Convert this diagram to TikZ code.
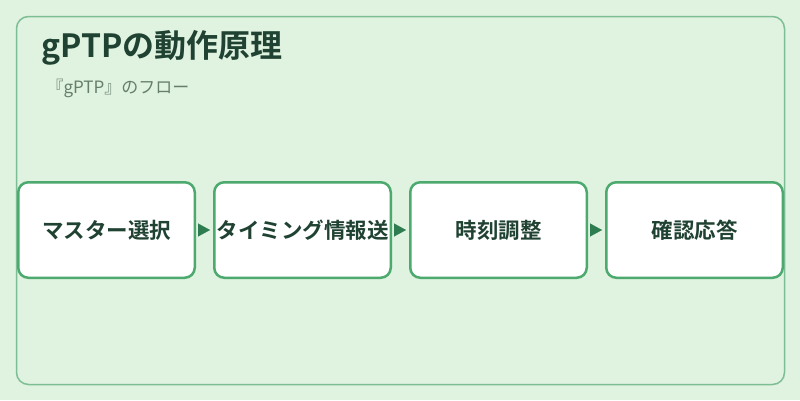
\documentclass[tikz,border=0pt]{standalone}
\usepackage{fontspec}
\setmainfont{Noto Sans CJK JP}[BoldFont={Noto Sans CJK JP Bold}]
\usetikzlibrary{arrows.meta}
\definecolor{pageGreen}{HTML}{E0F2E0}
\definecolor{frameGreen}{HTML}{7DBE94}
\definecolor{boxGreen}{HTML}{4CAA6E}
\definecolor{tipGreen}{HTML}{2E7D50}
\definecolor{inkGreen}{HTML}{1F4232}
\definecolor{subGrey}{HTML}{667F6D}

\begin{document}
\begin{tikzpicture}[x=1pt, y=-1pt,
    stepbox/.style={draw=boxGreen, line width=2.5pt, fill=white, rounded corners=10pt,
      minimum width=176.5pt, minimum height=95.5pt, inner sep=0pt,
      font=\fontsize{21.5pt}{25pt}\selectfont\bfseries, text=inkGreen},
    flow/.style={-{Triangle[length=12pt,width=13pt]}, draw=tipGreen, fill=tipGreen,
      line width=0.1pt, shorten <=2pt, shorten >=3pt}]
			%%%%% START %%%%%
			
			\fill[pageGreen] (0, 0) rectangle (800, 400);
			\draw[line width=1.5pt, color=frameGreen, rounded corners=12pt] (16.5, 16.5) rectangle (784.5, 384.5);
			
			\node[anchor=west, text=inkGreen, font=\fontsize{32pt}{37pt}\selectfont\bfseries] (title) at (38, 47.5) {gPTPの動作原理};
			\node[anchor=west, text=subGrey, font=\fontsize{17pt}{20pt}\selectfont] (sub) at (43, 88) {『gPTP』のフロー};
			
			\node[stepbox] (master) at (106.5, 230) {マスター選択};
			\node[stepbox] (timing) at (302.5, 230) {タイミング情報送};
			\node[stepbox] (adjust) at (498.5, 230) {時刻調整};
			\node[stepbox] (ack) at (694.5, 230) {確認応答};
			
			\draw[flow] (master) -- (timing);
			\draw[flow] (timing) -- (adjust);
			\draw[flow] (adjust) -- (ack);
			
			%%%%% END %%%%%
\end{tikzpicture}
\end{document}
